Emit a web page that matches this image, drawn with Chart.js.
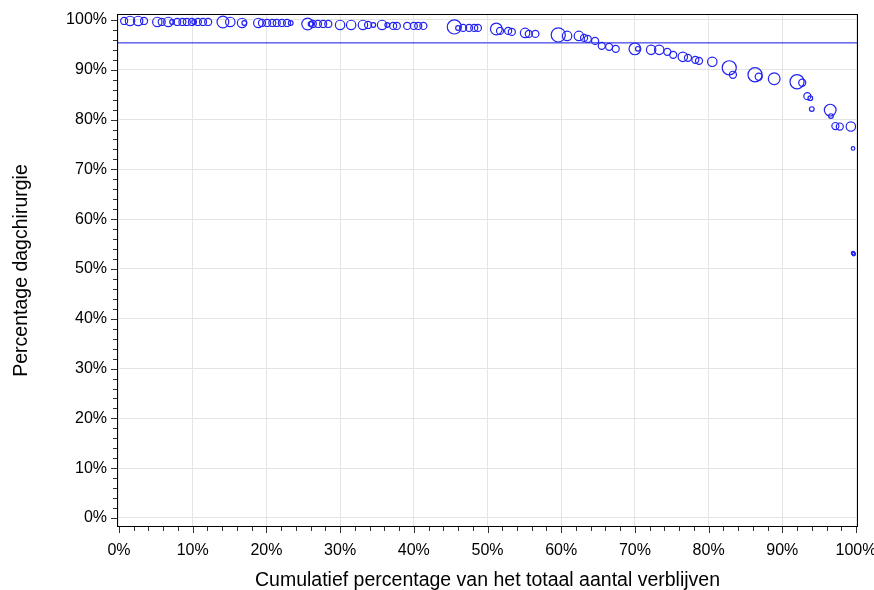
<!DOCTYPE html>
<html>
<head>
<meta charset="utf-8">
<style>
  html, body { margin: 0; padding: 0; background: #fff; overflow: hidden; }
  #wrap { width: 874px; height: 590px; }
  canvas { display: block; }
</style>
<script src="https://cdn.jsdelivr.net/npm/chart.js@4"></script>
</head>
<body>
<div id="wrap"><canvas id="chart" width="874" height="590"></canvas></div>
<script>
// cumulatief percentage van het totaal aantal verblijven (x)
var cumPct = [0.7, 1.5, 2.6, 3.4, 5.2, 5.8, 6.7, 7.2, 7.9, 8.6, 9.2, 9.9, 10.2, 10.7, 11.4, 12.1,
    14.1, 15.1, 16.7, 17.0, 18.9, 19.4, 20.1, 20.8, 21.4, 22.1, 22.8, 23.3, 25.6, 26.0, 26.3, 27.0,
    27.7, 28.4, 30.0, 31.5, 33.1, 33.8, 34.5, 35.7, 36.4, 37.2, 37.7, 39.1, 40.0, 40.6, 41.3, 45.5,
    46.0, 46.7, 47.5, 48.2, 48.7, 51.2, 51.7, 52.8, 53.3, 55.1, 55.6, 56.5, 59.6, 60.8, 62.4, 63.1,
    63.6, 64.6, 65.5, 66.5, 67.4, 70.0, 70.4, 72.2, 73.3, 74.4, 75.2, 76.5, 77.2, 78.2, 78.7, 80.5,
    82.8, 83.3, 86.3, 86.8, 88.9, 92.0, 92.7, 93.4, 93.8, 94.0, 96.5, 96.6, 97.2, 97.8, 99.3, 99.6,
    99.6, 99.7];

// percentage dagchirurgie (y)
var pctDag = [99.8, 99.8, 99.8, 99.8, 99.6, 99.6, 99.6, 99.6, 99.6, 99.6, 99.6, 99.6, 99.6, 99.6, 99.6, 99.6,
    99.6, 99.6, 99.4, 99.4, 99.4, 99.4, 99.4, 99.4, 99.4, 99.4, 99.4, 99.4, 99.2, 99.2, 99.2, 99.2,
    99.2, 99.2, 99.0, 99.0, 99.0, 99.0, 99.0, 99.0, 99.0, 98.8, 98.8, 98.8, 98.8, 98.8, 98.8, 98.6,
    98.4, 98.4, 98.4, 98.4, 98.4, 98.2, 97.8, 97.8, 97.6, 97.4, 97.2, 97.2, 97.0, 96.8, 96.8, 96.4,
    96.2, 95.8, 94.8, 94.6, 94.2, 94.2, 94.2, 94.0, 94.0, 93.6, 93.0, 92.6, 92.4, 92.0, 91.8, 91.6,
    90.4, 89.0, 89.0, 88.6, 88.2, 87.6, 87.4, 84.7, 84.3, 82.1, 81.9, 80.7, 78.7, 78.6, 78.6, 74.2,
    53.2, 53.0];

// aantal verblijven per groep (bepaalt de grootte van de cirkel)
var aantal = [900, 1600, 1600, 900, 1600, 900, 1600, 400, 900, 900, 900, 900, 400, 900, 900, 900,
    2500, 1600, 1600, 400, 1600, 900, 900, 900, 900, 900, 900, 400, 2500, 400, 900, 900,
    900, 900, 1600, 1600, 1600, 900, 400, 1600, 400, 900, 900, 900, 900, 900, 900, 3600,
    400, 900, 900, 900, 900, 2500, 900, 900, 900, 1600, 900, 900, 3600, 1600, 1600, 900,
    900, 900, 900, 900, 900, 2500, 400, 1600, 1600, 900, 900, 1600, 900, 900, 900, 1600,
    3600, 900, 3600, 900, 2500, 3600, 900, 900, 400, 400, 2500, 400, 900, 900, 1600, 225,
    225, 225];

var norm = 95.4;   // horizontale referentielijn
var tickValues = [];
for (var t = 0; t <= 100; t += 2) tickValues.push(t);

var xMin = -0.27, xMax = 100.27, yMin = -1.81, yMax = 101.2;

var points = [];
for (var i = 0; i < cumPct.length; i++) {
    points.push({ x: cumPct[i], y: pctDag[i], r: Math.sqrt(aantal[i]) / 8.5 });
}

var blue = 'rgb(35, 35, 240)';
var fontFam = '"Liberation Sans", Arial, sans-serif';

function setTicks(scale) {
    scale.ticks = tickValues.map(function (v) { return { value: v }; });
}
function noPad(s) {
    s.paddingLeft = 0; s.paddingRight = 0; s.paddingTop = 0; s.paddingBottom = 0;
}
function pctLabel(v) { return v % 10 === 0 ? v + '%' : ''; }
function gridColor(c) { return (c.tick && c.tick.value % 10 === 0) ? '#e4e4e4' : 'rgba(0,0,0,0)'; }

// frame + major/minor tick marks
var framePlugin = {
    id: 'frame',
    afterDraw: function (chart) {
        var ctx = chart.ctx, a = chart.chartArea;
        var xs = chart.scales.x, ys = chart.scales.y;
        ctx.save();
        ctx.strokeStyle = '#000';
        ctx.lineWidth = 1;
        ctx.strokeRect(Math.round(a.left) + 0.5, Math.round(a.top) + 0.5,
            Math.round(a.right - a.left) - 1, Math.round(a.bottom - a.top) - 1);
        ctx.strokeStyle = '#333';
        ctx.beginPath();
        tickValues.forEach(function (v) {
            var len = v % 10 === 0 ? 6 : 4;
            var px = Math.round(xs.getPixelForValue(v)) + 0.5;
            ctx.moveTo(px, Math.round(a.bottom));
            ctx.lineTo(px, Math.round(a.bottom) + len);
            var py = Math.round(ys.getPixelForValue(v)) + 0.5;
            ctx.moveTo(Math.round(a.left), py);
            ctx.lineTo(Math.round(a.left) - len, py);
        });
        ctx.stroke();
        ctx.restore();
    }
};

var ctx = document.getElementById('chart');

var myChart = new Chart(ctx, {
    type: 'bubble',
    data: {
        datasets: [{
            label: 'Groepen',
            data: points,
            backgroundColor: 'rgba(0,0,0,0)',
            borderColor: blue,
            borderWidth: 1.2,
            hoverRadius: 0
        }, {
            type: 'line',
            label: 'Norm',
            data: [{ x: xMin, y: norm }, { x: xMax, y: norm }],
            borderColor: 'rgb(20, 20, 230)',
            borderWidth: 1,
            pointRadius: 0,
            fill: false
        }]
    },
    options: {
        responsive: false,
        animation: false,
        events: [],
        layout: { padding: { left: 0, top: 14, right: 16, bottom: 0 } },
        plugins: {
            legend: { display: false },
            tooltip: { enabled: false }
        },
        scales: {
            x: {
                type: 'linear',
                min: xMin,
                max: xMax,
                afterBuildTicks: setTicks,
                afterFit: function (s) { s.height = 63; noPad(s); },
                grid: { color: gridColor, drawTicks: false },
                border: { display: false },
                ticks: {
                    callback: pctLabel,
                    autoSkip: false,
                    maxRotation: 0,
                    padding: 14,
                    color: '#000',
                    font: { family: fontFam, size: 16 }
                },
                title: {
                    display: true,
                    text: 'Cumulatief percentage van het totaal aantal verblijven',
                    color: '#000',
                    padding: { top: 0, bottom: -2 },
                    font: { family: fontFam, size: 19.5 }
                }
            },
            y: {
                type: 'linear',
                min: yMin,
                max: yMax,
                afterBuildTicks: setTicks,
                afterFit: function (s) { s.width = 117; noPad(s); },
                grid: { color: gridColor, drawTicks: false },
                border: { display: false },
                ticks: {
                    callback: pctLabel,
                    autoSkip: false,
                    padding: 10,
                    color: '#000',
                    font: { family: fontFam, size: 16 }
                },
                title: {
                    display: true,
                    text: 'Percentage dagchirurgie',
                    color: '#000',
                    padding: { top: 10, bottom: 0 },
                    font: { family: fontFam, size: 19.5 }
                }
            }
        }
    },
    plugins: [framePlugin]
});
</script>
</body>
</html>
